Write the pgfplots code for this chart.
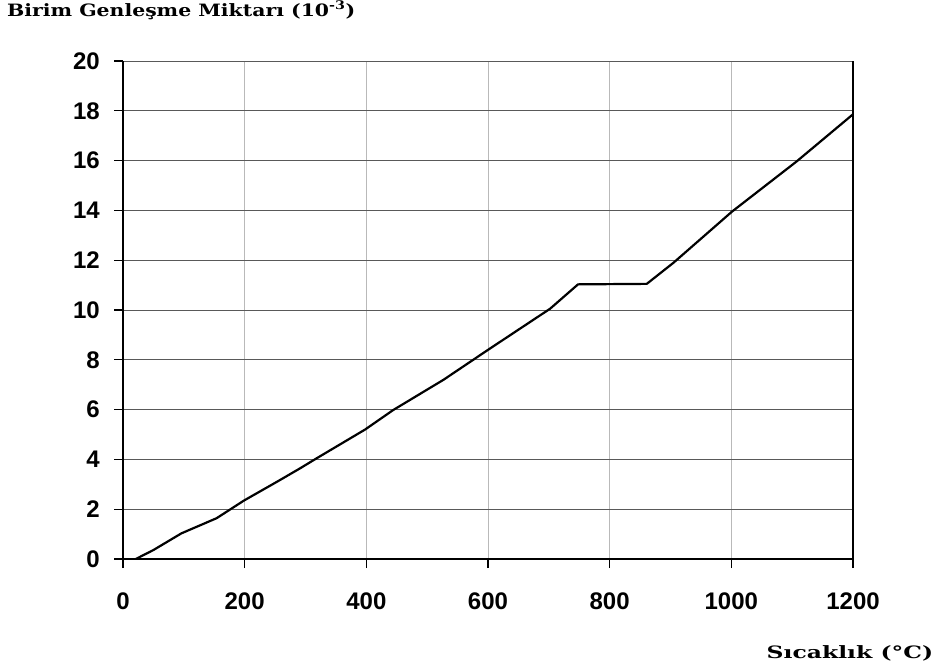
\documentclass[border=0pt]{standalone}
\usepackage{graphicx}
\usepackage{pgfplots}
\pgfplotsset{compat=1.18}
\usepackage{fontspec}
\setmainfont{DejaVu Serif}
\newfontfamily\arialb{Liberation Sans}
\begin{document}
\begin{tikzpicture}
\path[use as bounding box] (-123pt,-111pt) rectangle (816pt,559pt);
\begin{axis}[
  scale only axis,
  width=730pt, height=498pt,
  at={(0pt,0pt)}, anchor=south west,
  xmin=0, xmax=1200, ymin=0, ymax=20,
  xtick={0,200,...,1200}, ytick={0,2,...,20},
  axis lines*=left,
  axis line style={black, line width=1.8pt},
  tick align=outside,
  major tick length=9pt,
  tick style={black, line width=1.3pt},
  grid=major,
  x grid style={gray!55, line width=0.7pt},
  y grid style={black!65, line width=0.9pt},
  /pgf/number format/assume math mode=true,
  /pgf/number format/1000 sep={},
  ticklabel style={font=\fontsize{24}{28}\selectfont\arialb\bfseries},
  yticklabel style={inner sep=0pt, anchor=east, xshift=-14pt},
  xticklabel style={inner sep=0pt, anchor=north, yshift=-25pt},
  title={\scalebox{1.2}[1]{\fontsize{17}{20}\selectfont\bfseries Birim Genleşme Miktarı (10\textsuperscript{-3})}},
  title style={anchor=base west, at={(rel axis cs:-0.159,1.078)}, inner sep=0pt},
  xlabel={\scalebox{1.38}[1]{\fontsize{17}{20}\selectfont\bfseries Sıcaklık (°C)}},
  xlabel style={anchor=base east, at={(rel axis cs:1.110,-0.199)}, inner sep=0pt},
  clip=false,
]
\addplot[black, line width=2.2pt] coordinates {
 (21,0) (50,0.36) (96,1.03) (154,1.64) (199,2.35) (253,3.1) (291,3.64)
 (318,4.04) (398,5.2) (444,5.98) (527,7.2) (600,8.4) (702,10.05)
 (748,11.03) (861,11.05) (905,11.9) (1001,13.95) (1107,15.96) (1200,17.86)
};
\draw[black, line width=1.5pt] (axis cs:1200,0) -- (axis cs:1200,20);
\end{axis}
\end{tikzpicture}
\end{document}
